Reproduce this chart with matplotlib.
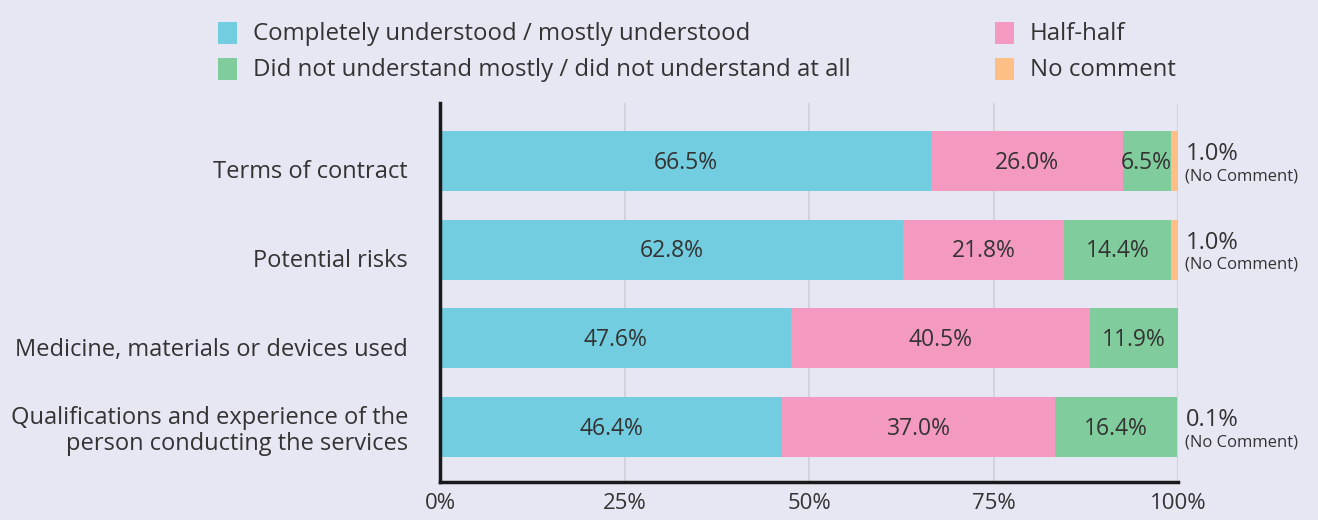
import matplotlib
matplotlib.use("Agg")
import matplotlib.pyplot as plt
from matplotlib.patches import Rectangle
from matplotlib.transforms import ScaledTranslation

categories = ["Terms of contract", "Potential risks", "Medicine, materials or devices used",
              "Qualifications and experience of the\nperson conducting the services"]
understood = [66.5, 62.8, 47.6, 46.4]
half = [26.0, 21.8, 40.5, 37.0]
not_understood = [6.5, 14.4, 11.9, 16.4]
no_comment = [1.0, 1.0, 0.0, 0.1]
series_names = ["Completely understood / mostly understood", "Half-half",
                "Did not understand mostly / did not understand at all", "No comment"]
xticks = [0, 25, 50, 75, 100]
xticklabels = ["0%", "25%", "50%", "75%", "100%"]

colors = ["#72CDE0", "#F49AC1", "#80CC9C", "#FDBF85"]
bg = "#E7E7F3"
txt = "#333333"
plt.rcParams['font.family'] = ['Open Sans', 'DejaVu Sans']

W, H = 1318, 520
fig = plt.figure(figsize=(W/100, H/100), dpi=100, facecolor=bg)
ax = fig.add_axes([440/W, 1-482/H, (1178-440)/W, (482-103)/H], facecolor=bg)

ys = list(range(len(categories)))
series = [understood, half, not_understood, no_comment]
left = [0.0]*len(categories)
for vals, col in zip(series, colors):
    ax.barh(ys, vals, left=left, height=0.68, color=col, zorder=3)
    left = [l + v for l, v in zip(left, vals)]

for i in ys:
    x0 = 0
    for vals in series[:3]:
        v = vals[i]
        ax.text(x0 + v/2, i + 0.02, f"{v:.1f}%", ha="center", va="center", fontsize=16.5, color=txt, zorder=4)
        x0 += v
    if no_comment[i] > 0:
        ax.text(101.0, i + 0.06, f"{no_comment[i]:.1f}%", ha="left", va="bottom", fontsize=17, color=txt, clip_on=False)
        ax.text(101.0, i + 0.08, "(No Comment)", ha="left", va="top", fontsize=12, color=txt, clip_on=False)

ax.set_xlim(0, 100)
ax.set_ylim(3.62, -0.654)
ax.set_yticks(ys)
ax.set_yticklabels(categories, fontsize=17, color=txt, linespacing=1.1)
ax.set_xticks(xticks)
ax.set_xticklabels(xticklabels, fontsize=16, color=txt)
ax.tick_params(axis="both", length=0)
ax.tick_params(axis="x", pad=8)
ax.tick_params(axis="y", pad=23)
shift = ScaledTranslation(0, -6/72, fig.dpi_scale_trans)
for lab in ax.get_yticklabels():
    lab.set_horizontalalignment("right")
    lab.set_multialignment("right")
    if "\n" not in lab.get_text():
        lab.set_transform(lab.get_transform() + shift)
ax.grid(axis="x", color="#CFCFD8", linewidth=1.2, zorder=0)
for s in ["top", "right"]:
    ax.spines[s].set_visible(False)
for s in ["left", "bottom"]:
    ax.spines[s].set_linewidth(2.5)
    ax.spines[s].set_color("#1a1a1a")
    ax.spines[s].set_zorder(5)

# legend (manual layout)
leg_items = [(218, 33, colors[0], series_names[0]),
             (218, 69, colors[2], series_names[2]),
             (995, 33, colors[1], series_names[1]),
             (995, 69, colors[3], series_names[3])]
for px, py, col, name in leg_items:
    fig.patches.append(Rectangle((px/W, 1-(py+11)/H), 19/W, 22/H, transform=fig.transFigure,
                                 facecolor=col, edgecolor="none"))
    fig.text((px+35)/W, 1-(py+1)/H, name, ha="left", va="center", fontsize=17.3, color=txt)

fig.savefig("out.png", dpi=100, facecolor=bg)
